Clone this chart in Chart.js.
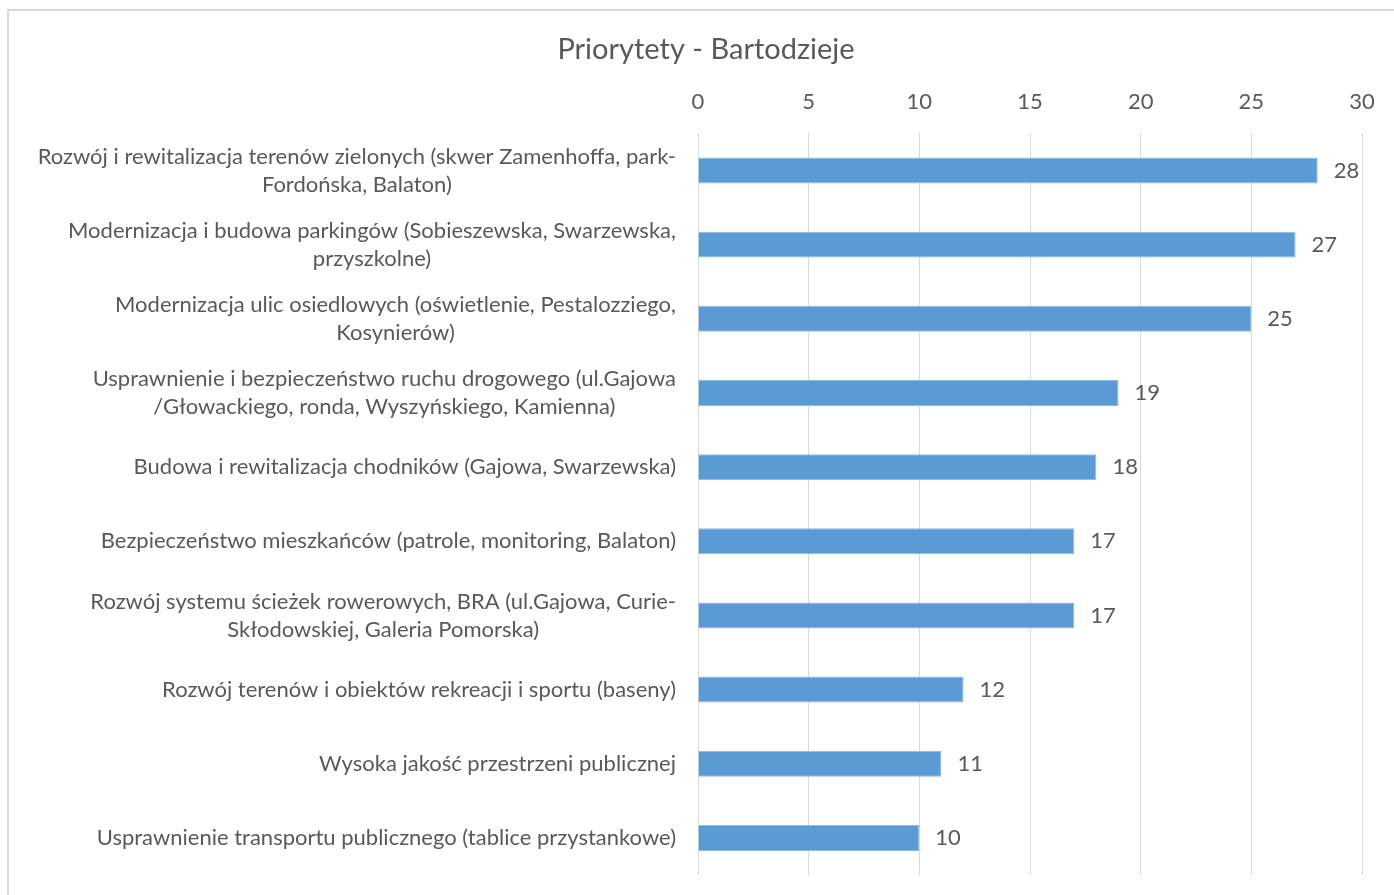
<!DOCTYPE html>
<html>
<head>
<meta charset="utf-8">
<script src="https://cdn.jsdelivr.net/npm/chart.js@4.4.0/dist/chart.umd.min.js"></script>
<style>
  body { margin: 0; background: #fff; overflow: hidden; }
  #frame { position: absolute; left: 7px; top: 9px; width: 1400px; height: 900px; border: 2px solid #d9d9d9; }
</style>
</head>
<body>
<div id="frame"><canvas id="myChart"></canvas></div>
<script>
// データ
const chartTitle = 'Priorytety - Bartodzieje';
const categories = [
  ['Rozwój i rewitalizacja terenów zielonych (skwer Zamenhoffa, park-', 'Fordońska, Balaton)'],
  ['Modernizacja i budowa parkingów (Sobieszewska, Swarzewska,', 'przyszkolne)'],
  ['Modernizacja ulic osiedlowych (oświetlenie, Pestalozziego,', 'Kosynierów)'],
  ['Usprawnienie i bezpieczeństwo ruchu drogowego (ul.Gajowa', '/Głowackiego, ronda, Wyszyńskiego, Kamienna)'],
  ['Budowa i rewitalizacja chodników (Gajowa, Swarzewska)'],
  ['Bezpieczeństwo mieszkańców (patrole, monitoring, Balaton)'],
  ['Rozwój systemu ścieżek rowerowych, BRA (ul.Gajowa, Curie-', 'Skłodowskiej, Galeria Pomorska)'],
  ['Rozwój terenów i obiektów rekreacji i sportu (baseny)'],
  ['Wysoka jakość przestrzeni publicznej'],
  ['Usprawnienie transportu publicznego (tablice przystankowe)'],
];
const values = [28, 27, 25, 19, 18, 17, 17, 12, 11, 10];
const axisMin = 0;
const axisMax = 30;
const axisStep = 5;

const textColor = '#595959';
const fontFamily = 'Lato, "Open Sans", sans-serif';

// タイトル・カテゴリラベル・値ラベルを描く
const labelPlugin = {
  id: 'labelPlugin',
  afterDraw(chart) {
    const ctx = chart.ctx;
    const yScale = chart.scales.y;
    ctx.save();
    ctx.fillStyle = textColor;
    ctx.textBaseline = 'middle';
    ctx.textAlign = 'center';
    ctx.font = '29px ' + fontFamily;
    ctx.fillText(chartTitle, chart.width / 2 - 3, 39);

    ctx.font = '22px ' + fontFamily;
    const right = chart.chartArea.left - 22;
    const lineHeight = 28;
    categories.forEach((lines, i) => {
      const w = Math.max(...lines.map((l) => ctx.measureText(l).width));
      const cy = yScale.getPixelForValue(i);
      lines.forEach((l, j) => {
        ctx.fillText(l, right - w / 2, cy + (j - (lines.length - 1) / 2) * lineHeight);
      });
    });
    ctx.textAlign = 'left';
    const meta = chart.getDatasetMeta(0);
    meta.data.forEach((bar, i) => {
      ctx.fillText(String(values[i]), bar.x + 16, bar.y);
    });
    ctx.restore();
  },
};

const config = {
  type: 'bar',
  data: {
    labels: categories.map((c) => c.join(' ')),
    datasets: [
      {
        data: values,
        backgroundColor: '#5b9bd5',
        borderColor: '#8fbbe4',
        borderWidth: 1,
        categoryPercentage: 0.35,
        barPercentage: 1,
      },
    ],
  },
  options: {
    indexAxis: 'y',
    responsive: true,
    maintainAspectRatio: false,
    animation: false,
    layout: { padding: { left: 0, right: 47, top: 60, bottom: 36 } },
    plugins: {
      legend: { display: false },
      tooltip: { enabled: false },
      title: { display: false },
    },
    scales: {
      x: {
        position: 'top',
        min: axisMin,
        max: axisMax,
        ticks: {
          stepSize: axisStep,
          color: textColor,
          font: { family: fontFamily, size: 22 },
          padding: 18,
        },
        grid: { color: '#d9d9d9', lineWidth: 1, drawTicks: false },
        border: { display: false },
      },
      y: {
        ticks: { display: false },
        grid: { display: false },
        border: { display: false },
        afterFit(scale) {
          scale.width = 689;
        },
      },
    },
  },
  plugins: [labelPlugin],
};

const myChart = new Chart(document.getElementById('myChart'), config);
</script>
</body>
</html>
